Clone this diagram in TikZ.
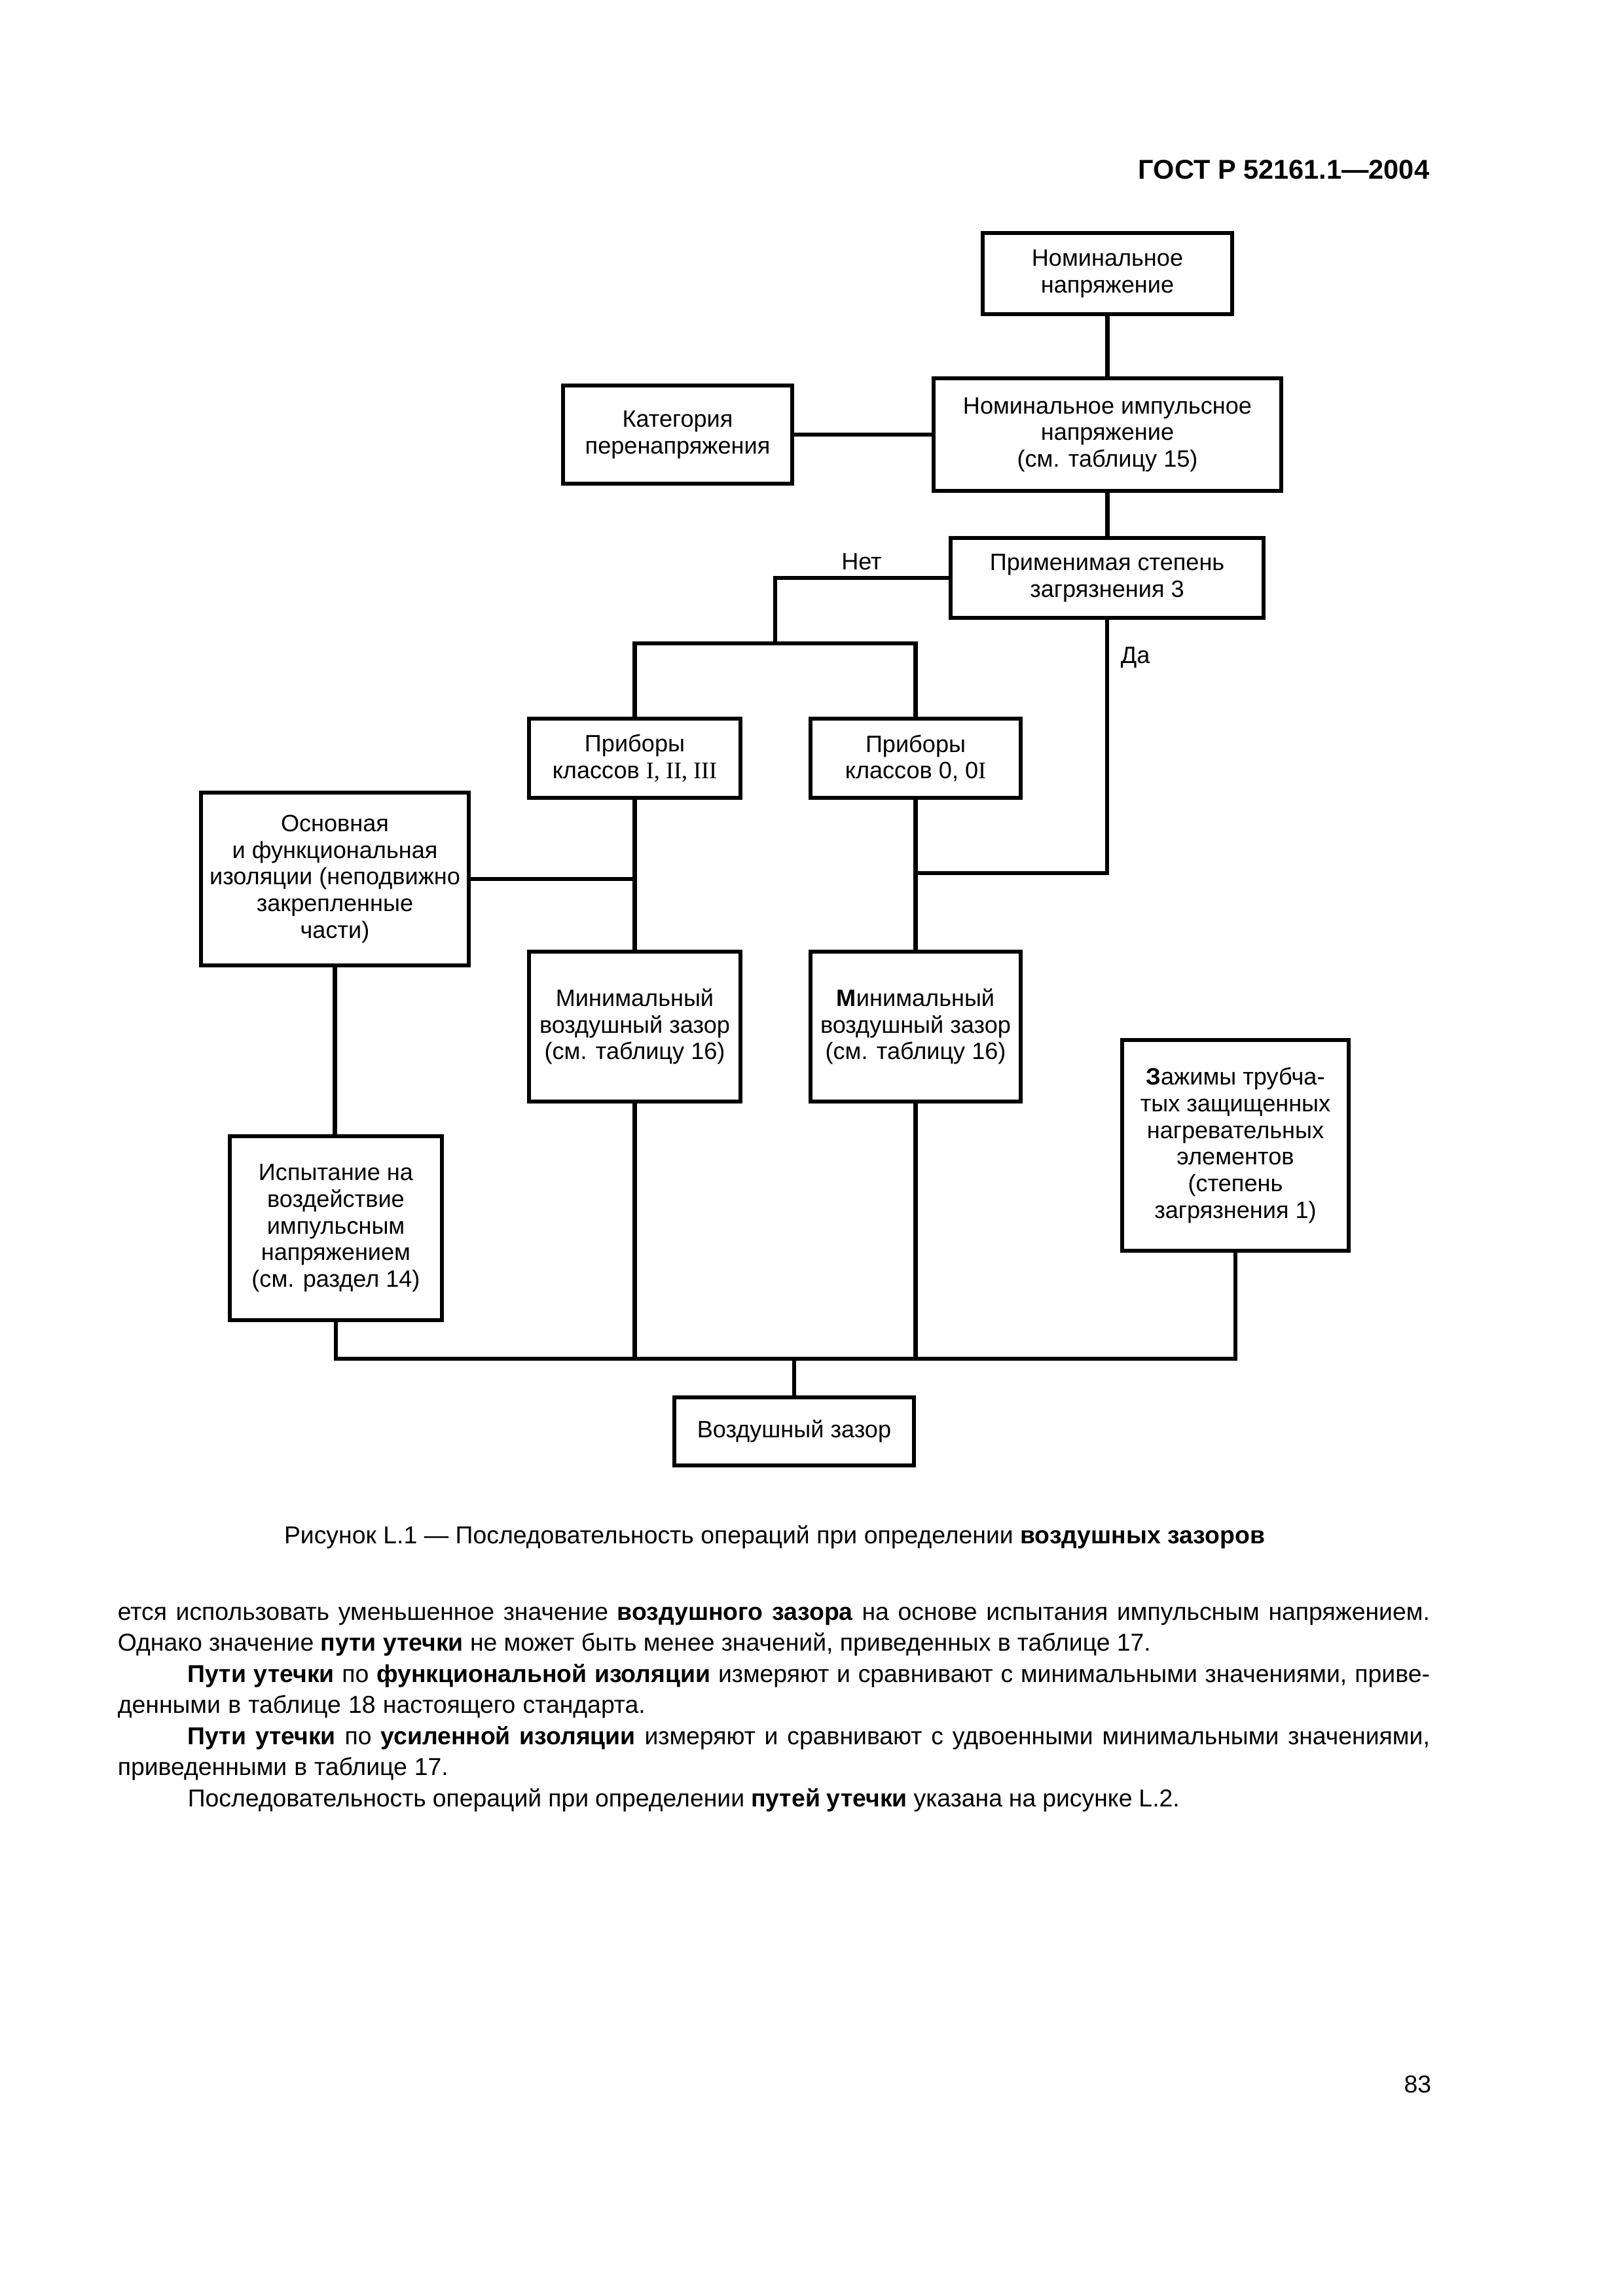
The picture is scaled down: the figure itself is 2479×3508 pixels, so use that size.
\documentclass[tikz,border=0pt]{standalone}
\usepackage{fontspec}
\setmainfont{Liberation Sans}
\newfontfamily\romfont{Liberation Serif}
\newdimen\pxu \pxu=0.084667mm
\newcommand\boxfont{\fontsize{8.7}{9.8}\selectfont}
\newcommand\bodyfont{\fontsize{9}{11}\selectfont}
\begin{document}
\begin{tikzpicture}[x=0.084667mm, y=-0.084667mm,
  box/.style 2 args={draw, line width=1.5pt, inner sep=0pt, align=center, font=\boxfont,
    minimum width=#1*\pxu, minimum height=#2*\pxu},
  conn/.style={line width=1.5pt},
  lbl/.style={inner sep=0pt, font=\boxfont},
  txt/.style={inner sep=0pt, font=\bodyfont}]
\fill[white] (0,0) rectangle (2479,3508);
\useasboundingbox (0,0) rectangle (2479,3508);

% header
\node[anchor=base east, inner sep=0pt, font=\bfseries\fontsize{10}{12}\selectfont] (title) at (2184,273) {ГОСТ Р 52161.1—2004};

% boxes
\node[box={381}{124}] (nn) at (1691.5,418) {Номинальное\\напряжение};
\node[box={531}{172}] (nin) at (1691.5,664) {Номинальное импульсное\\напряжение\\(см. таблицу 15)};
\node[box={350}{150}] (kat) at (1035,664) {Категория\\перенапряжения};
\node[box={478}{122}] (prim) at (1691,883) {Применимая степень\\загрязнения 3};
\node[box={323}{121}] (pr1) at (969.5,1158.5) {Приборы\\классов {\romfont I, II, III}};
\node[box={321}{121}] (pr0) at (1398.5,1158.5) {Приборы\\классов 0, 0{\romfont I}};
\node[box={409}{264}] (osn) at (511.5,1343) {Основная\\и функциональная\\изоляции (неподвижно\\закрепленные\\части)};
\node[box={323}{229}] (min1) at (969.5,1568.5) {Минимальный\\воздушный зазор\\(см. таблицу 16)};
\node[box={321}{229}] (min0) at (1398.5,1568.5) {{\bfseries М}инимальный\\воздушный зазор\\(см. таблицу 16)};
\node[box={324}{281}] (isp) at (513,1876.5) {Испытание на\\воздействие\\импульсным\\напряжением\\(см. раздел 14)};
\node[box={346}{322}] (zaz) at (1887,1750) {{\bfseries З}ажимы трубча-\\тых защищенных\\нагревательных\\элементов\\(степень\\загрязнения 1)};
\node[box={366}{104}] (vz) at (1213,2187) {Воздушный зазор};

% labels
\node[lbl, anchor=base] (net) at (1316,870) {Нет};
\node[lbl, anchor=base west] (da) at (1711,1013) {Да};

% connectors
\coordinate (netj) at (1184,983);
\coordinate (daj) at (1398.5,1334);
\coordinate (bus) at (1213,2076);
\draw[conn] (nn.south) -- (nn.south |- nin.north);
\draw[conn] (kat.east) -- (kat.east -| nin.west);
\draw[conn] (nin.south) -- (nin.south |- prim.north);
\draw[conn] (prim.west) -| (netj);
\draw[conn] (pr1.north) |- (netj) -| (pr0.north);
\draw[conn] (prim.south) |- (daj);
\draw[conn] (pr1.south) -- (min1.north);
\draw[conn] (pr0.south) -- (min0.north);
\draw[conn] (osn.east) -- (osn.east -| pr1.south);
\draw[conn] (osn.south) -- (osn.south |- isp.north);
\draw[conn] (isp.south) |- (bus) -| (zaz.south);
\draw[conn] (min1.south) -- (min1.south |- bus);
\draw[conn] (min0.south) -- (min0.south |- bus);
\draw[conn] (bus) -- (bus |- vz.north);

% caption
\node[txt, anchor=base] (cap) at (1183,2358) {\makebox[1498\pxu][s]{Рисунок L.1 — Последовательность операций при определении \textbf{воздушных зазоров}}};

% body text
\node[txt, anchor=base west] (l1) at (179,2475) {\makebox[2004\pxu][s]{ется использовать уменьшенное значение \textbf{воздушного зазора} на основе испытания импульсным напряжением.}};
\node[txt, anchor=base west] (l2) at (179,2522.5) {\makebox[1578\pxu][s]{Однако значение \textbf{пути утечки} не может быть менее значений, приведенных в таблице 17.}};
\node[txt, anchor=base west] (l3) at (286,2570) {\makebox[1897\pxu][s]{\textbf{Пути утечки} по \textbf{функциональной изоляции} измеряют и сравнивают с минимальными значениями, приве-}};
\node[txt, anchor=base west] (l4) at (179,2617.5) {\makebox[806\pxu][s]{денными в таблице 18 настоящего стандарта.}};
\node[txt, anchor=base west] (l5) at (286,2665) {\makebox[1897\pxu][s]{\textbf{Пути утечки} по \textbf{усиленной изоляции} измеряют и сравнивают с удвоенными минимальными значениями,}};
\node[txt, anchor=base west] (l6) at (179,2712.5) {\makebox[505\pxu][s]{приведенными в таблице 17.}};
\node[txt, anchor=base west] (l7) at (286,2760) {\makebox[1515\pxu][s]{Последовательность операций при определении \textbf{путей утечки} указана на рисунке L.2.}};

% page number
\node[txt, anchor=base east] (pg) at (2187,3197) {83};
\end{tikzpicture}
\end{document}
